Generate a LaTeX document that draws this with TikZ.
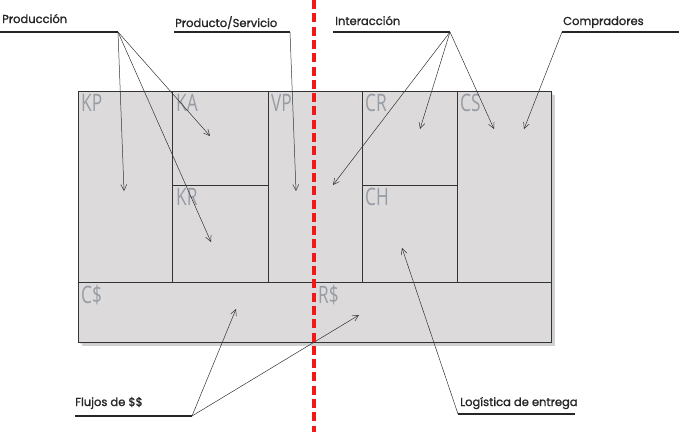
\documentclass[tikz,border=0pt]{standalone}
\usepackage{fontspec}
\usetikzlibrary{arrows.meta}
\newfontfamily\headfont[FakeBold=1.3]{Poppins}
\newfontfamily\cellfont[FakeStretch=0.72]{Open Sans}
\definecolor{canvasfill}{HTML}{DCDADB}
\definecolor{cellgray}{HTML}{979CA4}
\definecolor{gridline}{HTML}{333333}
\definecolor{splitred}{HTML}{F01818}
\tikzset{
  gridbox/.style={draw=gridline, line width=0.9pt},
  celllabel/.style={anchor=north west, inner sep=0pt, text=cellgray, font=\cellfont\fontsize{24}{24}\selectfont},
  headlabel/.style={anchor=base west, inner sep=0pt, text=black!85, font=\headfont\fontsize{11.5}{13}\selectfont},
  lowlabel/.style={anchor=base west, inner sep=0pt, text=black!85, font=\headfont\fontsize{11.5}{13}\selectfont},
  underl/.style={draw=black!85, line width=1.1pt},
  pointer/.style={draw=black!80, line width=0.5pt, -{Straight Barb[length=6pt,width=6pt]}},
  split/.style={draw=splitred, line width=3.4pt, dash pattern=on 9pt off 4.3pt},
}
\begin{document}
\begin{tikzpicture}[x=1pt,y=-1pt]
\useasboundingbox (0,0) rectangle (695,432);
% shadow
\fill[black!30, opacity=0.6] (82,95) rectangle (555,346);
\fill[black!20, opacity=0.5] (80,93) rectangle (553,344);
% canvas
\fill[canvasfill] (78,91) rectangle (551,342);
\draw[gridbox] (78,91) rectangle (551,342);
\draw[gridbox] (78,282) -- (551,282);
\draw[gridbox] (172,91) -- (172,282);
\draw[gridbox] (268,91) -- (268,282);
\draw[gridbox] (362,91) -- (362,282);
\draw[gridbox] (457,91) -- (457,282);
\draw[gridbox] (172,185) -- (268,185);
\draw[gridbox] (362,185) -- (457,185);
% cell labels
\node[celllabel] (kp) at (81,94) {KP};
\node[celllabel] (ka) at (176,94) {KA};
\node[celllabel] (vp) at (271,94) {VP};
\node[celllabel] (cr) at (365,94) {CR};
\node[celllabel] (cs) at (460,94) {CS};
\node[celllabel] (kr) at (176,188) {KR};
\node[celllabel] (ch) at (365,188) {CH};
\node[celllabel] (cd) at (81,285) {C\$};
\node[celllabel] (rd) at (318,285) {R\$};
% header labels
\node[headlabel] (prod) at (2,23) {Producción};
\node[headlabel] (ps) at (175,27) {Producto/Servicio};
\node[headlabel] (inter) at (335,25) {Interacción};
\node[headlabel] (comp) at (563,25) {Compradores};
\node[lowlabel] (flu) at (75,406) {Flujos de \$\$};
\node[lowlabel] (log) at (460,406) {Logística de entrega};
% underline coordinates
\coordinate (prodL) at (0,32);   \coordinate (prodA) at (118,32);
\coordinate (psL) at (174,32);   \coordinate (psA) at (290,32);
\coordinate (interL) at (333,32);\coordinate (interA) at (450,32);
\coordinate (compA) at (562,32); \coordinate (compR) at (679,32);
\coordinate (fluL) at (75,416);  \coordinate (fluA) at (192,416);
\coordinate (logA) at (458,414); \coordinate (logR) at (575,414);
\draw[underl] (prodL) -- (prodA);
\draw[underl] (psL) -- (psA);
\draw[underl] (interL) -- (interA);
\draw[underl] (compA) -- (compR);
\draw[underl] (fluL) -- (fluA);
\draw[underl] (logA) -- (logR);
% targets
\coordinate (tKP) at (124,191);
\coordinate (tKA) at (210,136);
\coordinate (tKR) at (211,242);
\coordinate (tVP) at (296,191);
\coordinate (tVP2) at (333,185);
\coordinate (tCR) at (420,129);
\coordinate (tCS1) at (494,129);
\coordinate (tCS2) at (524,129);
\coordinate (tCD) at (236,309);
\coordinate (tRD) at (359,315);
\coordinate (tCH) at (402,248);
\draw[pointer] (prodA) -- (tKP);
\draw[pointer] (prodA) -- (tKA);
\draw[pointer] (prodA) -- (tKR);
\draw[pointer] (psA) -- (tVP);
\draw[pointer] (interA) -- (tVP2);
\draw[pointer] (interA) -- (tCR);
\draw[pointer] (interA) -- (tCS1);
\draw[pointer] (compA) -- (tCS2);
\draw[pointer] (fluA) -- (tCD);
\draw[pointer] (fluA) -- (tRD);
\draw[pointer] (logA) -- (tCH);
% split line
\coordinate (sTop) at (314,0);
\coordinate (sBot) at (314,432);
\draw[split] (sTop) -- (sBot);
\end{tikzpicture}
\end{document}
